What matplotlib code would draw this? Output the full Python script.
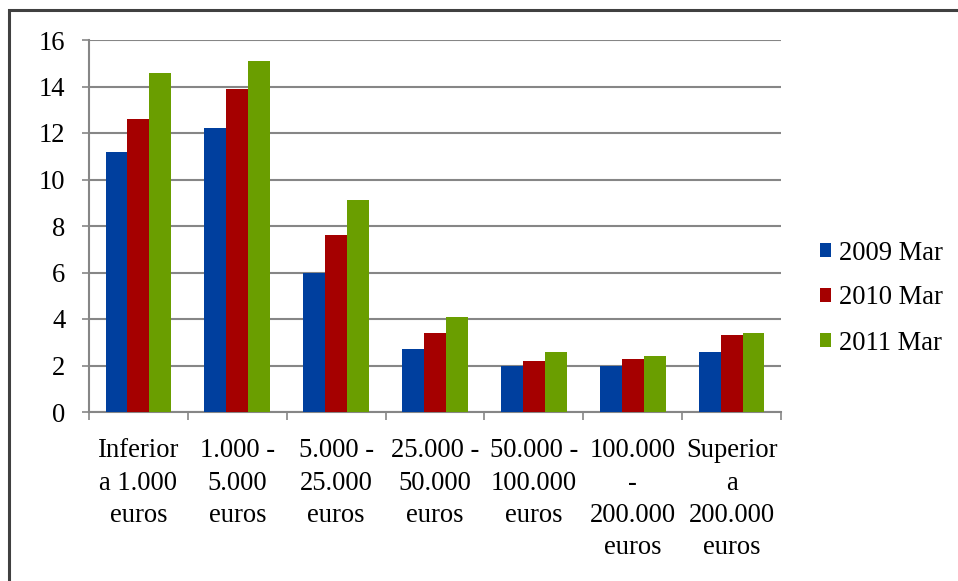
import matplotlib
matplotlib.use('Agg')
import matplotlib.pyplot as plt
from matplotlib.patches import Rectangle
import numpy as np

# ----------------------------------------------------------------------------------------------------------------------
#  DATA
# ----------------------------------------------------------------------------------------------------------------------
categories = ['Inferior\na 1.000\neuros', '1.000 -\n5.000\neuros', '5.000 -\n25.000\neuros',
              '25.000 -\n50.000\neuros', '50.000 -\n100.000\neuros', '100.000\n-\n200.000\neuros',
              'Superior\na\n200.000\neuros']
series_names = ['2009 Mar', '2010 Mar', '2011 Mar']
values_2009 = [11.2, 12.2, 6.0, 2.7, 2.0, 2.0, 2.6]
values_2010 = [12.6, 13.9, 7.6, 3.4, 2.2, 2.3, 3.3]
values_2011 = [14.6, 15.1, 9.1, 4.1, 2.6, 2.4, 3.4]
y_ticks = [0, 2, 4, 6, 8, 10, 12, 14, 16]

# ----------------------------------------------------------------------------------------------------------------------
#  PLOT
# ----------------------------------------------------------------------------------------------------------------------
plt.rcParams['font.family'] = ['Liberation Serif', 'DejaVu Serif']
font_size = 19.2
grid_col = '#868686'
colors = ['#003F9E', '#A50000', '#6A9E00']

W, H = 958, 581
fig = plt.figure(figsize=(W / 100, H / 100), dpi=100)
ax = fig.add_axes([89 / W, 1 - 412 / H, 692 / W, 372 / H])

x = np.arange(len(categories))
bw = 0.222
for k, vals in enumerate([values_2009, values_2010, values_2011]):
    ax.bar(x + (k - 1) * bw, vals, width=bw, color=colors[k], label=series_names[k], zorder=3)

ax.set_xlim(-0.5, len(categories) - 0.5)
ax.set_ylim(0, 16)
ax.set_yticks(y_ticks)
ax.set_yticklabels([str(t) for t in y_ticks], fontsize=font_size)
ax.yaxis.grid(True, color=grid_col, linewidth=1.5, zorder=0)

# category labels between boundary ticks
ax.set_xticks(np.arange(-0.5, len(categories), 1.0))
ax.set_xticklabels([])
ax.set_xticks(x, minor=True)
ax.set_xticklabels(categories, minor=True, fontsize=font_size, linespacing=1.38)
ax.tick_params(axis='x', which='minor', length=0, pad=19)
ax.tick_params(axis='x', which='major', length=6, width=1.2, color=grid_col, direction='out')
ax.tick_params(axis='y', length=5, width=1.2, color=grid_col, pad=12)

for s in ['top', 'right']:
    ax.spines[s].set_visible(False)
for s in ['left', 'bottom']:
    ax.spines[s].set_color(grid_col)
    ax.spines[s].set_linewidth(1.5)

leg = fig.legend(loc='center left', bbox_to_anchor=(820 / W, 1 - 298 / H), frameon=False,
                 fontsize=font_size, handlelength=0.42, handleheight=0.42, handletextpad=0.3,
                 labelspacing=0.75, borderpad=0, borderaxespad=0)

# outer chart frame (only top and left edges visible)
fig.patches.append(Rectangle((9 / W, -0.2), 1.2, 1.2 - 10 / H, transform=fig.transFigure,
                             fill=False, edgecolor='#404040', linewidth=2.2))

fig.savefig('out.png', dpi=100)
